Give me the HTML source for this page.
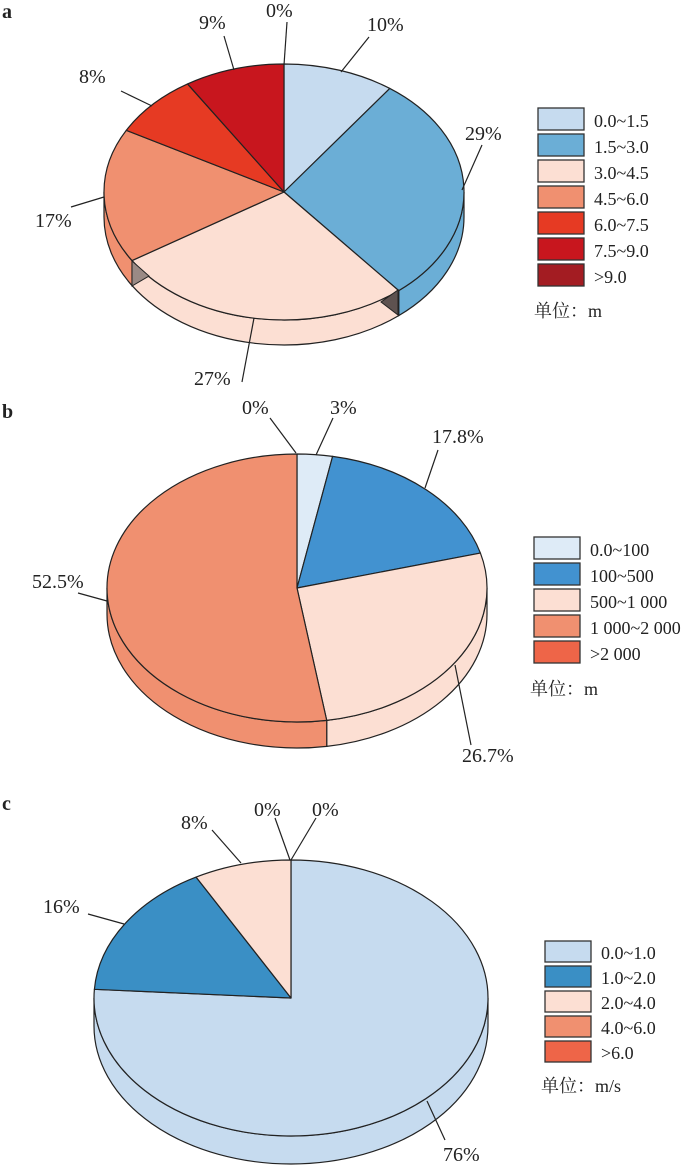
<!DOCTYPE html>
<html><head><meta charset="utf-8">
<style>
html,body{margin:0;padding:0;background:#fff;}
svg{display:block;}
text{font-family:"Liberation Serif","Noto Serif CJK SC",serif;font-size:18px;fill:#222;}
.p{font-size:20px;}
</style></head><body>
<svg id="s" width="700" height="1166" viewBox="0 0 700 1166" xmlns="http://www.w3.org/2000/svg">
<g id="g"></g>
<g stroke="#222" stroke-width="1.2" fill="none">
<line x1="287" y1="22" x2="284" y2="65"/>
<line x1="224" y1="36" x2="234" y2="70"/>
<line x1="369" y1="37" x2="341" y2="72"/>
<line x1="121" y1="91" x2="152" y2="106"/>
<line x1="482" y1="145" x2="462" y2="190"/>
<line x1="71" y1="207" x2="104" y2="197"/>
<line x1="242" y1="382" x2="254" y2="318"/>
<line x1="270" y1="418" x2="296" y2="453"/>
<line x1="333" y1="418" x2="316" y2="455"/>
<line x1="438" y1="450" x2="425" y2="488"/>
<line x1="78" y1="593" x2="107" y2="601"/>
<line x1="471" y1="745" x2="455" y2="665"/>
<line x1="212" y1="830" x2="241" y2="863"/>
<line x1="275" y1="818" x2="290" y2="860"/>
<line x1="316" y1="818" x2="291" y2="860"/>
<line x1="88" y1="914" x2="124" y2="924"/>
<line x1="445" y1="1140" x2="427" y2="1101"/>
</g>
<text x="2" y="18" style="font-weight:bold;font-size:20px">a</text>
<text x="2" y="418" style="font-weight:bold;font-size:20px">b</text>
<text x="2" y="810" style="font-weight:bold;font-size:20px">c</text>
<text class="p" x="266" y="17">0%</text>
<text class="p" x="199" y="29">9%</text>
<text class="p" x="367" y="31">10%</text>
<text class="p" x="79" y="83">8%</text>
<text class="p" x="465" y="140">29%</text>
<text class="p" x="35" y="227">17%</text>
<text class="p" x="194" y="385">27%</text>
<text class="p" x="242" y="414">0%</text>
<text class="p" x="330" y="414">3%</text>
<text class="p" x="432" y="443">17.8%</text>
<text class="p" x="32" y="588">52.5%</text>
<text class="p" x="462" y="762">26.7%</text>
<text class="p" x="181" y="829">8%</text>
<text class="p" x="254" y="816">0%</text>
<text class="p" x="312" y="816">0%</text>
<text class="p" x="43" y="913">16%</text>
<text class="p" x="443" y="1161">76%</text>
</svg>
<script>
var g=document.getElementById('g');var NS='http://www.w3.org/2000/svg';
function el(t,a){var e=document.createElementNS(NS,t);for(var k in a)e.setAttribute(k,a[k]);g.appendChild(e);return e;}
function P(c,t,dy){var r=t*Math.PI/180;return [c.cx+c.rx*Math.sin(r),c.cy-c.ry*Math.cos(r)+(dy||0)];}
function pie(c,sl){
 var acc=0;
 sl.forEach(function(s){var t1=acc*3.6,t2=(acc+s[0])*3.6;acc+=s[0];
  var a=Math.max(t1,90),b=Math.min(t2,270);if(b<=a)return;
  var p1=P(c,a),p2=P(c,b),q2=P(c,b,c.d),q1=P(c,a,c.d);
  el('path',{d:'M'+p1+' A'+c.rx+' '+c.ry+' 0 0 1 '+p2+' L'+q2+' A'+c.rx+' '+c.ry+' 0 0 0 '+q1+' Z',fill:s[1],stroke:'#222','stroke-width':1.2});
 });
 acc=0;
 sl.forEach(function(s){if(s[0]<=0)return;var t1=acc*3.6,t2=(acc+s[0])*3.6;acc+=s[0];
  var p1=P(c,t1),p2=P(c,t2);var la=(t2-t1)>180?1:0;
  el('path',{d:'M'+c.cx+','+c.cy+' L'+p1+' A'+c.rx+' '+c.ry+' 0 '+la+' 1 '+p2+' Z',fill:s[1],stroke:'#222','stroke-width':1.2,'stroke-linejoin':'round'});
 });
}
function legend(x,y,sp,items,unit,uy){
 items.forEach(function(it,i){
  el('rect',{x:x,y:y+i*sp,width:46,height:sp-4,fill:it[1],stroke:'#333','stroke-width':1.3});
  var t=el('text',{x:x+56,y:y+i*sp+sp-7});t.textContent=it[0];
 });
 var u=el('text',{x:x-4,y:uy});u.textContent=unit;
}
var A={cx:284,cy:192,rx:180,ry:128,d:25};
pie(A,[[10,'#c6dbef'],[29,'#6baed6'],[27,'#fcdfd3'],[17,'#f09070'],[8,'#e63a23'],[9,'#c8161e']]);
el('path',{d:'M398,290 L398,315 L381,302 Z',fill:'#5e5250',stroke:'#222','stroke-width':1});
el('path',{d:'M132,261 L132,286 L149,276 Z',fill:'#9a8a85',stroke:'#222','stroke-width':1});
legend(538,108,26,[['0.0~1.5','#c6dbef'],['1.5~3.0','#6baed6'],['3.0~4.5','#fcdfd3'],['4.5~6.0','#f09070'],['6.0~7.5','#e63a23'],['7.5~9.0','#c8161e'],['>9.0','#a31c22']],'单位：m',317);
var B={cx:297,cy:588,rx:190,ry:134,d:26};
pie(B,[[3,'#deebf7'],[17.8,'#4292d0'],[26.7,'#fcdfd3'],[52.5,'#f09070']]);
legend(534,537,26,[['0.0~100','#deebf7'],['100~500','#4292d0'],['500~1 000','#fcdfd3'],['1 000~2 000','#f09070'],['>2 000','#ee6548']],'单位：m',695);
var C={cx:291,cy:998,rx:197,ry:138,d:28};
pie(C,[[76,'#c6dbef'],[16,'#3a8fc5'],[8,'#fcdfd3']]);
legend(545,941,25,[['0.0~1.0','#c6dbef'],['1.0~2.0','#3a8fc5'],['2.0~4.0','#fcdfd3'],['4.0~6.0','#f09070'],['>6.0','#ee6548']],'单位：m/s',1092);
</script>
</body></html>
